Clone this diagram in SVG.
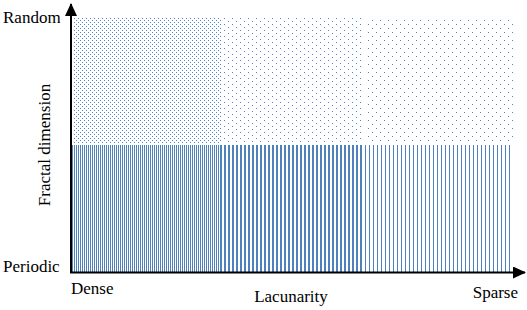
<svg xmlns="http://www.w3.org/2000/svg" width="527" height="310" viewBox="0 0 527 310">
<style>
.lbl{font-family:"Liberation Serif","Times New Roman","DejaVu Serif",serif;font-size:17px;fill:#000}
.axis{stroke:#000;stroke-width:2;fill:none}
.dot{fill:#4a86cf}
.str{fill:#4f81bd}
</style>
<defs>
<pattern id="dots1" patternUnits="userSpaceOnUse" width="4" height="4"><rect class="dot" x="0" y="0" width="1" height="1"/><rect class="dot" x="2" y="2" width="1" height="1"/></pattern>
<pattern id="dots2" patternUnits="userSpaceOnUse" width="8" height="6"><rect class="dot" x="0" y="0" width="1" height="1"/><rect class="dot" x="4" y="3" width="1" height="1"/></pattern>
<pattern id="dots3" patternUnits="userSpaceOnUse" width="8" height="8"><rect class="dot" x="0" y="0" width="1" height="1"/><rect class="dot" x="4" y="4" width="1" height="1"/></pattern>
<pattern id="str1" patternUnits="userSpaceOnUse" width="2" height="4"><rect class="str" x="0" y="0" width="1" height="4"/></pattern>
<pattern id="str2" patternUnits="userSpaceOnUse" width="4" height="4"><rect class="str" x="0" y="0" width="2" height="4"/></pattern>
<pattern id="str3" patternUnits="userSpaceOnUse" width="4" height="4"><rect class="str" x="1" y="0" width="1" height="4"/></pattern>
<marker id="arr" markerUnits="userSpaceOnUse" markerWidth="14" markerHeight="12" refX="12" refY="6" orient="auto"><path d="M0,0 L13,6 L0,12 Z" fill="#000"/></marker>
</defs>
<g shape-rendering="crispEdges">
<g id="random-dense"><rect x="73" y="18" width="148" height="126" fill="url(#dots1)"/></g>
<g id="random-mid"><rect x="222" y="18" width="142" height="126" fill="url(#dots2)"/></g>
<g id="random-sparse"><rect x="365" y="18" width="148" height="126" fill="url(#dots3)"/></g>
<g id="periodic-dense"><rect x="71" y="145" width="150" height="127" fill="url(#str1)"/></g>
<g id="periodic-mid"><rect x="221" y="145" width="143" height="127" fill="url(#str2)"/></g>
<g id="periodic-sparse"><rect x="364" y="145" width="148" height="127" fill="url(#str3)"/></g>
</g>
<g id="connectors">
<line class="axis" x1="71" y1="273" x2="71" y2="4" marker-end="url(#arr)"/>
<line class="axis" x1="70" y1="272.5" x2="525" y2="272.5" marker-end="url(#arr)"/>
</g>
<g id="labels">
<text class="lbl" font-family="Liberation Serif, serif" x="3" y="23">Random</text>
<text class="lbl" font-family="Liberation Serif, serif" x="3" y="272">Periodic</text>
<text class="lbl" font-family="Liberation Serif, serif" transform="translate(50,145) rotate(-90)" text-anchor="middle">Fractal dimension</text>
<text class="lbl" font-family="Liberation Serif, serif" x="71" y="294">Dense</text>
<text class="lbl" font-family="Liberation Serif, serif" x="291" y="302" text-anchor="middle">Lacunarity</text>
<text class="lbl" font-family="Liberation Serif, serif" x="518" y="298" text-anchor="end">Sparse</text>
</g>
</svg>
